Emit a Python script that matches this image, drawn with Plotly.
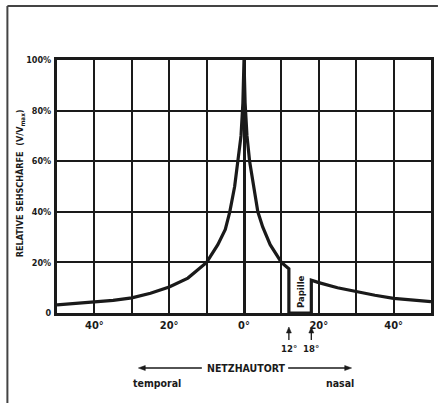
import plotly.graph_objects as go

# Retinal position (degrees) and relative visual acuity (%)
netzhautort = [-50, -45, -40, -35, -30, -25, -20, -15, -10, -7, -5, -3.8, -2.5, -1.6, -0.8, -0.3, 0,
               0.3, 0.8, 1.5, 2.5, 3.7, 5, 7, 10, 12, 12, 18, 18, 20, 25, 30, 35, 40, 45, 50]
sehschaerfe = [3.2, 3.7, 4.3, 5.0, 6.0, 7.8, 10.3, 13.8, 20, 27, 33, 40, 50, 60, 70, 83, 100,
               83, 70, 60, 50, 40, 34, 27, 20, 17.5, 0, 0, 13, 12, 10, 8.4, 7.0, 5.8, 5.0, 4.5]

x_tick_vals = [-40, -20, 0, 20, 40]
x_tick_text = ["40°", "20°", "0°", "20°", "40°"]
y_tick_vals = [0, 20, 40, 60, 80, 100]
y_tick_text = ["0", "20%", "40%", "60%", "80%", "100%"]
papille_marks = [12, 18]

FONT = "Liberation Sans Narrow, DejaVu Sans Condensed, Arial Narrow, sans-serif"
INK = "#1a1a1a"

fig = go.Figure()
fig.add_trace(go.Scatter(x=netzhautort, y=sehschaerfe, mode="lines",
                         line=dict(color=INK, width=3.2), showlegend=False, hoverinfo="skip"))

W, H = 441, 403
L, R, T, B = 57, 7, 60, 90
pw, ph = W - L - R, H - T - B

def px(x):
    return (x - L) / pw

def py(y):
    return (H - B - y) / ph

def bold(s):
    return f"<b>{s}</b>"

fig.update_layout(
    width=W, height=H,
    margin=dict(l=L, r=R, t=T, b=B),
    paper_bgcolor="white", plot_bgcolor="white",
    font=dict(family=FONT, color=INK, size=11),
    xaxis=dict(range=[-50, 50], tickmode="array", tickvals=x_tick_vals,
               ticktext=[bold(t) for t in x_tick_text],
               showgrid=True, gridcolor=INK, gridwidth=2,
               minor=dict(tickmode="array", tickvals=[-30, -10, 10, 30], showgrid=True,
                          gridcolor=INK, gridwidth=2),
               zeroline=True, zerolinecolor=INK, zerolinewidth=3,
               showline=True, linecolor=INK, linewidth=3, mirror=True,
               ticks="", tickfont=dict(size=11, family=FONT), fixedrange=True),
    yaxis=dict(range=[0, 100], tickmode="array", tickvals=y_tick_vals,
               ticktext=[bold(t) for t in y_tick_text],
               showgrid=True, gridcolor=INK, gridwidth=2, zeroline=False,
               showline=True, linecolor=INK, linewidth=3, mirror=True,
               ticks="", ticklabelstandoff=1,
               tickfont=dict(size=9, family=FONT), fixedrange=True),
)

def ann(x, y, text, size, xref="paper", angle=0):
    return dict(x=x, y=y, xref=xref, yref="paper", showarrow=False, text=text,
                textangle=angle, xanchor="center", yanchor="middle",
                font=dict(size=size, family=FONT, color=INK))

anns = []
# y-axis title
anns.append(ann(px(20), py(183), "<b>RELATIVE SEHSCHÄRFE  (V/V<sub>max</sub>)</b>", 9, angle=-90))
# Papille label
anns.append(ann(15, py(292), "<b>Papille</b>", 9.5, xref="x", angle=-90))
# 12° / 18° labels
for m in papille_marks:
    anns.append(ann(m, py(348), bold(f"{m}°"), 9.5, xref="x"))
# NETZHAUTORT, temporal, nasal
anns.append(ann(px(248), py(368), "<b>NETZHAUTORT</b>", 10.5))
anns.append(ann(px(158), py(383), "<b>temporal</b>", 10.5))
anns.append(ann(px(342), py(383), "<b>nasal</b>", 10.5))
fig.update_layout(annotations=anns)

# arrows drawn as shapes (pixel-based positions converted to paper)
def line(x0, y0, x1, y1, w=1.3, c=INK):
    fig.add_shape(type="line", xref="paper", yref="paper",
                  x0=px(x0), y0=py(y0), x1=px(x1), y1=py(y1), line=dict(color=c, width=w))

def head(pts):
    path = "M " + " L ".join(f"{px(a)},{py(b)}" for a, b in pts) + " Z"
    fig.add_shape(type="path", xref="paper", yref="paper", path=path,
                  fillcolor=INK, line=dict(color=INK, width=0.5))

x0_pix = L + pw / 2
scale = pw / 100
for m in papille_marks:
    xp = x0_pix + m * scale
    line(xp, 340, xp, 331)
    head([(xp, 327), (xp - 2.5, 333), (xp + 2.5, 333)])

line(145, 368, 203, 368)
head([(139, 368), (146, 365.5), (146, 370.5)])
line(290, 368, 348, 368)
head([(354, 368), (347, 365.5), (347, 370.5)])

# outer frame (left and top edges)
line(7, 6, 441, 6, w=2, c="#444")
line(7, 6, 7, 403, w=2, c="#444")

fig.write_html("out.html", config={"displayModeBar": False},
               post_script="document.body.style.margin='0';")
